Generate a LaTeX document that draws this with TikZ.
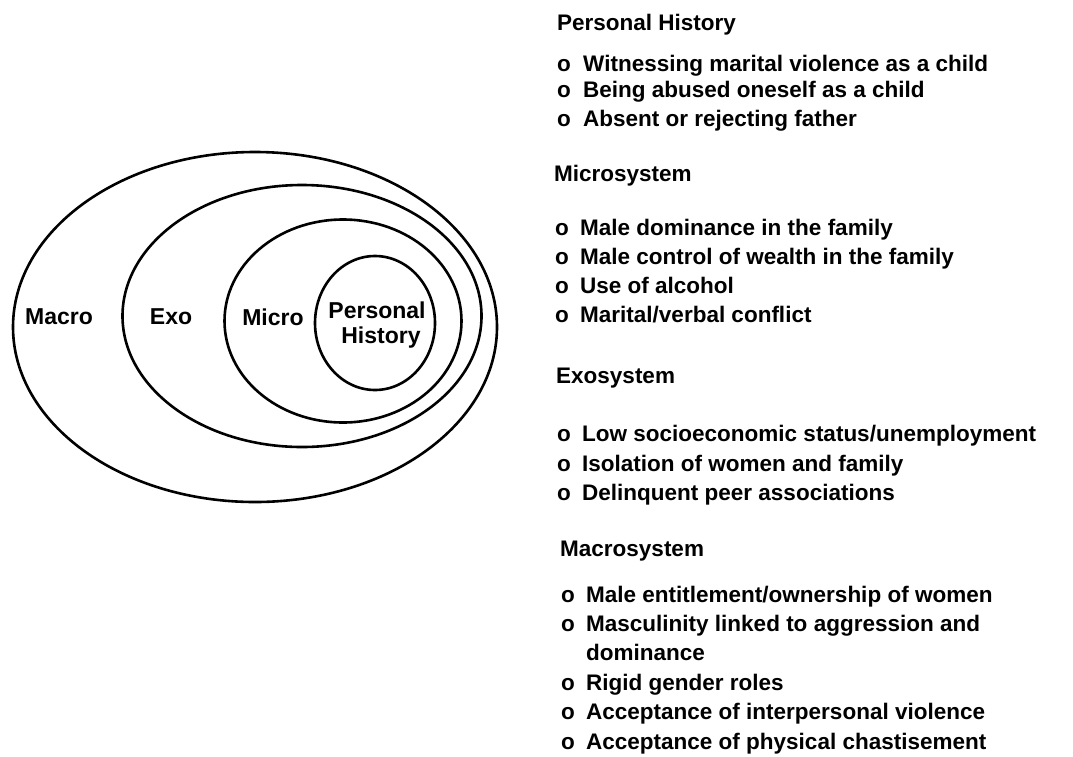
\documentclass[tikz,border=0pt]{standalone}
\usepackage{fontspec}
\setmainfont{Liberation Sans}
\usetikzlibrary{shapes.geometric}
\tikzset{
  ring/.style={ellipse, draw=black, line width=2.6pt, inner sep=0pt, outer sep=0pt},
  lbl/.style={font=\bfseries\fontsize{23}{25}\selectfont, inner sep=0pt, align=center},
  head/.style={font=\bfseries\fontsize{22.5}{24}\selectfont, inner sep=0pt, anchor=west, text height=16pt, text depth=0pt},
  item/.style={font=\bfseries\fontsize{22.5}{29}\selectfont, inner sep=0pt, anchor=west, text height=16pt, text depth=0pt},
  bul/.style={font=\bfseries\fontsize{22.5}{29}\selectfont, inner sep=0pt, anchor=west, text height=16pt, text depth=0pt}
}
\begin{document}
\begin{tikzpicture}[x=1pt,y=-1pt]
\useasboundingbox[fill=white] (0,0) rectangle (1073,756);
% rings
\node[ring, minimum width=484pt, minimum height=350pt] (macro) at (255,327) {};
\node[ring, minimum width=359pt, minimum height=262pt] (exo) at (302,316) {};
\node[ring, minimum width=237pt, minimum height=203pt] (micro) at (343,321) {};
\node[ring, minimum width=120pt, minimum height=134pt] (pers) at (375,323) {};
% ring labels
\node[lbl] (lmacro) at (59,317) {Macro};
\node[lbl] (lexo) at (171,317) {Exo};
\node[lbl] (lmicro) at (273,317) {Micro};
\node[lbl] (lpers) at (377,325) {Personal\\\hspace*{8pt}History};
% right column
\node[head] (h1) at (557,22) {Personal History};
\node[bul] (b1) at (557,63) {o}; \node[item] (t1) at (583,63) {Witnessing marital violence as a child};
\node[bul] (b2) at (557,89) {o}; \node[item] (t2) at (583,89) {Being abused oneself as a child};
\node[bul] (b3) at (557,118) {o}; \node[item] (t3) at (583,118) {Absent or rejecting father};
\node[head] (h2) at (554,173) {Microsystem};
\node[bul] (b4) at (555,227) {o}; \node[item] (t4) at (580,227) {Male dominance in the family};
\node[bul] (b5) at (555,256) {o}; \node[item] (t5) at (580,256) {Male control of wealth in the family};
\node[bul] (b6) at (555,285) {o}; \node[item] (t6) at (580,285) {Use of alcohol};
\node[bul] (b7) at (555,314) {o}; \node[item] (t7) at (580,314) {Marital/verbal conflict};
\node[head] (h3) at (556,375) {Exosystem};
\node[bul] (b8) at (557,433) {o}; \node[item] (t8) at (582,433) {Low socioeconomic status/unemployment};
\node[bul] (b9) at (557,463) {o}; \node[item] (t9) at (582,463) {Isolation of women and family};
\node[bul] (b10) at (557,492) {o}; \node[item] (t10) at (582,492) {Delinquent peer associations};
\node[head] (h4) at (560,548) {Macrosystem};
\node[bul] (b11) at (561,594) {o}; \node[item] (t11) at (586,594) {Male entitlement/ownership of women};
\node[bul] (b12) at (561,623) {o}; \node[item] (t12) at (586,623) {Masculinity linked to aggression and};
\node[item] (t12b) at (586,652) {dominance};
\node[bul] (b13) at (561,682) {o}; \node[item] (t13) at (586,682) {Rigid gender roles};
\node[bul] (b14) at (561,711) {o}; \node[item] (t14) at (586,711) {Acceptance of interpersonal violence};
\node[bul] (b15) at (561,741) {o}; \node[item] (t15) at (586,741) {Acceptance of physical chastisement};
\end{tikzpicture}
\end{document}
